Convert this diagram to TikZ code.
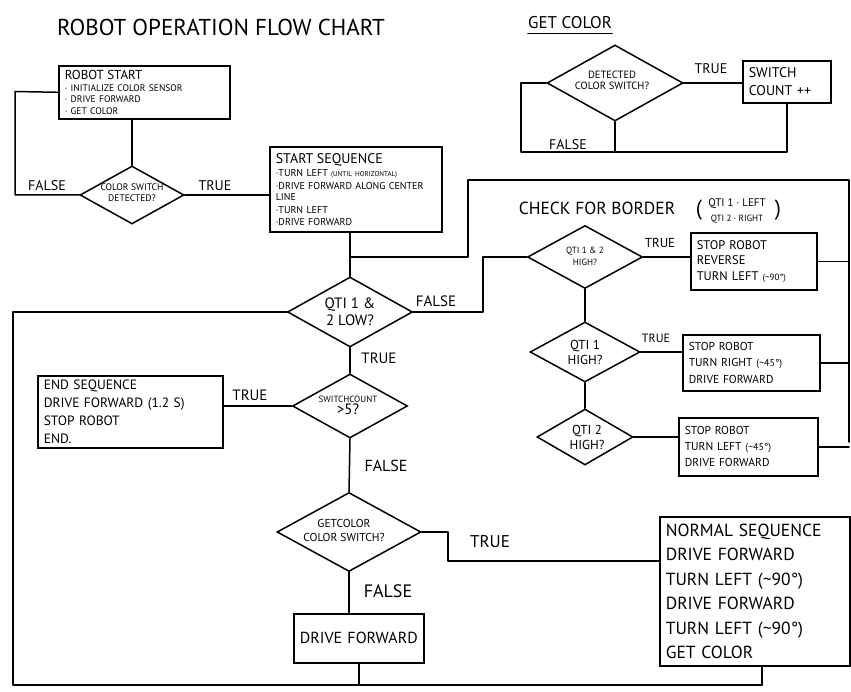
\documentclass[tikz,border=0pt]{standalone}
\usepackage{fontspec}
\setmainfont{PT Sans}
\usetikzlibrary{shapes.geometric}
\newcommand\fsz[2]{\fontsize{#1}{#2}\selectfont}
\newcommand\tld{\textasciitilde}
\tikzset{
  ln/.style={line width=1.5pt, line join=round, line cap=round},
  boxnode/.style={draw, line width=1.6pt, rectangle, anchor=north west, inner xsep=6pt, inner ysep=2pt, align=left},
  dia/.style={draw, diamond, inner sep=0pt, line width=1.5pt},
  dtext/.style={align=center, inner sep=0pt},
  lbl/.style={inner sep=0pt, font=\fsz{14}{16}}
}
\begin{document}
\begin{tikzpicture}[x=1pt,y=-1pt]
\useasboundingbox (0,0) rectangle (851,692);
% titles
\node[inner sep=0pt, font=\fsz{23}{26}] (title) at (221,27) {ROBOT OPERATION FLOW CHART};
\node[inner sep=0pt, font=\fsz{17}{19}] (gctitle) at (570,23) {GET COLOR};
\draw[ln] (gctitle.south west) ++(0,4) coordinate (ul1) -- (ul1 -| gctitle.south east);

% ---------- GET COLOR subchart
\node[dia, minimum width=136pt, minimum height=76pt] (gd) at (615,83) {};
\node[dtext, font=\fsz{10.5}{11}] (gdt) at (612,80) {DETECTED\\COLOR SWITCH?};
\node[boxnode, minimum width=88pt, minimum height=42pt, text width=76pt, font=\fsz{14}{18}] (sw) at (742,60) {SWITCH\\COUNT ++};
\coordinate (g1) at (521,152);
\draw[ln] (gd.east) -- (sw.west |- gd.east);
\draw[ln] (sw.south) |- (g1) |- (gd.west);
\draw[ln] (gd.south) -- (gd.south |- g1);
\node[lbl] (lt1) at (711,69) {TRUE};
\node[lbl] (lf1) at (568,145) {FALSE};

% ---------- start
\node[boxnode, minimum width=171pt, minimum height=53pt, text width=159pt] (rs) at (58,65)
  {\fsz{13}{13}ROBOT START\\[2pt]\fsz{9.5}{10.5}· INITIALIZE COLOR SENSOR\\· DRIVE FORWARD\\· GET COLOR};
\node[dia, minimum width=104pt, minimum height=58pt] (cd1) at (132,195) {};
\node[dtext, font=\fsz{9.5}{11}] (cd1t) at (132,193) {COLOR SWITCH\\DETECTED?};
\coordinate (L1) at (15,91.5);
\draw[ln] (rs.south -| cd1.north) -- (cd1.north);
\draw[ln] (cd1.west) -| (L1) -- (rs.west);
\node[lbl] (lf2) at (47,186) {FALSE};

\node[boxnode, minimum width=172pt, minimum height=85pt, text width=160pt] (ss) at (269,146)
  {\fsz{14}{14}START SEQUENCE\\[0pt]\fsz{10}{13}·TURN LEFT {\fsz{7}{8}(UNTIL HORIZONTAL)}\\·DRIVE FORWARD ALONG CENTER\\[-2pt]LINE\\·TURN LEFT\\·DRIVE FORWARD};
\draw[ln] (cd1.east) -- (ss.west |- cd1.east);
\node[lbl] (lt2) at (215,186) {TRUE};

% ---------- QTI 1 & 2 LOW
\node[dia, minimum width=125pt, minimum height=70pt] (ql) at (350,312) {};
\node[dtext, font=\fsz{15}{17}] (qlt) at (350,312) {QTI 1 \&\\2 LOW?};
\draw[ln] (ss.south -| ql.north) -- (ql.north);
\coordinate (j1) at (350,257);
\coordinate (c1) at (468,180);
\coordinate (re) at (849,178);
\coordinate (rb) at (849,442);
\draw[ln] (j1) -| (c1) -- (c1 -| re) -- (rb);

% ---------- check for border
\node[inner sep=0pt, font=\fsz{17.5}{19}] (cfb) at (597,208) {CHECK FOR BORDER};
\node[inner sep=0pt, font=\fsz{22}{24}] (pl) at (699,210) {(};
\node[inner sep=0pt, font=\fsz{22}{24}] (pr) at (778,210) {)};
\node[inner sep=0pt, font=\fsz{11}{12}] (q1l) at (737,204) {QTI 1 · LEFT};
\node[inner sep=0pt, font=\fsz{9}{10}] (q2r) at (737,219) {QTI 2 · RIGHT};

\node[dia, minimum width=115pt, minimum height=63pt] (qh12) at (585,257) {};
\node[dtext, font=\fsz{9}{12}] (qh12t) at (585,256) {QTI 1 \& 2\\HIGH?};
\node[dia, minimum width=110pt, minimum height=60pt] (qh1) at (585,352) {};
\node[dtext, font=\fsz{13}{15}] (qh1t) at (585,352) {QTI 1\\HIGH?};
\node[dia, minimum width=96pt, minimum height=56pt] (qh2) at (585,437) {};
\node[dtext, font=\fsz{13}{15}] (qh2t) at (587,437) {QTI 2\\HIGH?};

\node[boxnode, minimum width=126pt, minimum height=57pt, text width=114pt, font=\fsz{12.5}{15.5}] (b1) at (690,232)
  {STOP ROBOT\\REVERSE\\TURN LEFT {\fsz{9}{9}(\tld 90°)}};
\node[boxnode, minimum width=137pt, minimum height=56pt, text width=125pt, font=\fsz{11.5}{16.5}] (b2) at (682,334)
  {STOP ROBOT\\TURN RIGHT {\fsz{10}{10}(\tld 45°)}\\DRIVE FORWARD};
\node[boxnode, minimum width=139pt, minimum height=58pt, text width=127pt, font=\fsz{11.5}{16}] (b3) at (678,417)
  {STOP ROBOT\\TURN LEFT {\fsz{10}{10}(\tld 45°)}\\DRIVE FORWARD};

\coordinate (c2) at (483,312);
\draw[ln] (ql.east) -- (c2) |- (qh12.west);
\node[lbl, font=\fsz{15}{17}] (lf3) at (436,301) {FALSE};
\draw[ln] (qh12.east) -- (b1.west |- qh12.east);
\node[lbl, font=\fsz{13}{15}] (lt3) at (660,243) {TRUE};
\draw[ln] (qh12.south) -- (qh1.north);
\draw[ln] (qh1.east) -- (b2.west |- qh1.east);
\node[lbl, font=\fsz{12}{14}] (lt4) at (656,338) {TRUE};
\draw[ln] (qh1.south) -- (qh2.north);
\draw[ln] (qh2.east) -- (b3.west |- qh2.east);
\draw[ln] (b1.east) -- (b1.east -| re);
\draw[ln] (b2.east) -- (b2.east -| re);
\draw[ln] (b3.east) -- (b3.east -| re);

% ---------- switch count
\node[dia, minimum width=115pt, minimum height=64pt] (sc) at (350,406) {};
\node[dtext] (sct) at (348,405) {\fsz{9}{10}SWITCHCOUNT\\\fsz{15}{15}>5?};
\draw[ln] (ql.south) -- (sc.north);
\node[lbl, font=\fsz{15}{17}] (lt5) at (379,358) {TRUE};
\node[boxnode, minimum width=185pt, minimum height=72pt, text width=173pt, font=\fsz{13.5}{18}] (es) at (37,375)
  {END SEQUENCE\\DRIVE FORWARD (1.2 S)\\STOP ROBOT\\END.};
\draw[ln] (sc.west) -- (es.east |- sc.west);
\node[lbl, font=\fsz{15}{17}] (lt6) at (250,395) {TRUE};

% ---------- getcolor color switch
\node[dia, minimum width=144pt, minimum height=79pt] (gc) at (349,532) {};
\node[dtext, font=\fsz{11.5}{14}] (gct) at (344,530) {GETCOLOR\\COLOR SWITCH?};
\draw[ln] (sc.south) -- (gc.north);
\node[lbl, font=\fsz{16}{18}] (lf4) at (386,466) {FALSE};
\node[boxnode, minimum width=190pt, minimum height=149pt, text width=178pt, font=\fsz{17.5}{24.5}] (ns) at (659,516)
  {NORMAL SEQUENCE\\DRIVE FORWARD\\TURN LEFT (\tld 90°)\\DRIVE FORWARD\\TURN LEFT (\tld 90°)\\GET COLOR};
\coordinate (c3) at (448,561);
\draw[ln] (gc.east) -| (c3) -- (c3 -| ns.west);
\node[lbl, font=\fsz{17}{19}] (lt7) at (490,542) {TRUE};
\node[boxnode, minimum width=130pt, minimum height=49pt, text width=118pt, font=\fsz{16}{18}, align=center] (df) at (293,613) {DRIVE FORWARD};
\draw[ln] (gc.south) -- (gc.south |- df.north);
\node[lbl, font=\fsz{18}{20}] (lf5) at (388,591) {FALSE};

% ---------- return loop
\coordinate (bl) at (13,685);
\coordinate (br) at (762,687);
\draw[ln] (ql.west) -| (bl) -- (bl -| br);
\draw[ln] (df.south) -- (df.south |- bl);
\draw[ln] (br |- ns.south) -- (br |- bl);
\end{tikzpicture}
\end{document}
